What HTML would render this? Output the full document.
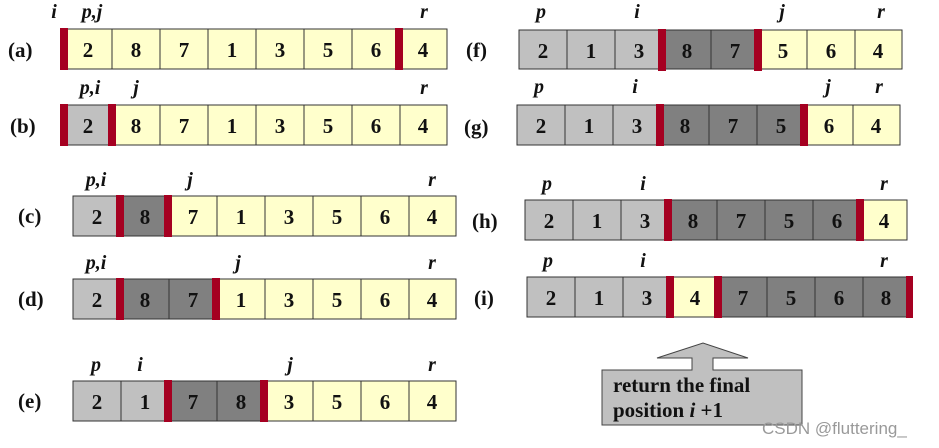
<!DOCTYPE html>
<html><head><meta charset="utf-8"><style>
html,body{margin:0;padding:0;background:#fff;}
svg{display:block;}
.n{font:bold 21px "Liberation Serif",serif;text-anchor:middle;fill:#111;}
.l{font:bold italic 20px "Liberation Serif",serif;text-anchor:middle;fill:#111;}
.t{font:bold 21px "Liberation Serif",serif;fill:#111;}
.y{fill:#ffffcc;stroke:#333;stroke-width:1}
.g{fill:#c0c0c0;stroke:#333;stroke-width:1}
.d{fill:#808080;stroke:#333;stroke-width:1}
.b{fill:#a50021}
</style></head><body>
<svg width="939" height="448" viewBox="0 0 939 448" xmlns="http://www.w3.org/2000/svg">
<!-- row labels -->
<text class="t" x="8" y="57">(a)</text>
<text class="t" x="10" y="133">(b)</text>
<text class="t" x="18" y="223">(c)</text>
<text class="t" x="18" y="306">(d)</text>
<text class="t" x="18" y="408">(e)</text>
<text class="t" x="466" y="57">(f)</text>
<text class="t" x="464" y="134">(g)</text>
<text class="t" x="472" y="228">(h)</text>
<text class="t" x="474" y="305">(i)</text>

<!-- (a) -->
<g transform="translate(64,29)">
<rect class="y" x="0" y="0" width="48" height="40"/><rect class="y" x="48" y="0" width="48" height="40"/><rect class="y" x="96" y="0" width="48" height="40"/><rect class="y" x="144" y="0" width="48" height="40"/><rect class="y" x="192" y="0" width="48" height="40"/><rect class="y" x="240" y="0" width="48" height="40"/><rect class="y" x="288" y="0" width="48" height="40"/><rect class="y" x="336" y="0" width="47" height="40"/>
<text class="n" x="24" y="28">2</text><text class="n" x="72" y="28">8</text><text class="n" x="120" y="28">7</text><text class="n" x="168" y="28">1</text><text class="n" x="216" y="28">3</text><text class="n" x="264" y="28">5</text><text class="n" x="312" y="28">6</text><text class="n" x="359" y="28">4</text>
<rect class="b" x="-4" y="-1" width="8" height="42"/><rect class="b" x="331" y="-1" width="8" height="42"/>
</g>
<text class="l" x="54" y="18">i</text><text class="l" x="92" y="18">p,j</text><text class="l" x="424" y="18">r</text>

<!-- (b) -->
<g transform="translate(64,105)">
<rect class="g" x="0" y="0" width="48" height="40"/><rect class="y" x="48" y="0" width="48" height="40"/><rect class="y" x="96" y="0" width="48" height="40"/><rect class="y" x="144" y="0" width="48" height="40"/><rect class="y" x="192" y="0" width="48" height="40"/><rect class="y" x="240" y="0" width="48" height="40"/><rect class="y" x="288" y="0" width="48" height="40"/><rect class="y" x="336" y="0" width="47" height="40"/>
<text class="n" x="24" y="28">2</text><text class="n" x="72" y="28">8</text><text class="n" x="120" y="28">7</text><text class="n" x="168" y="28">1</text><text class="n" x="216" y="28">3</text><text class="n" x="264" y="28">5</text><text class="n" x="312" y="28">6</text><text class="n" x="359" y="28">4</text>
<rect class="b" x="-4" y="-1" width="8" height="42"/><rect class="b" x="44" y="-1" width="8" height="42"/>
</g>
<text class="l" x="90" y="94">p,i</text><text class="l" x="136" y="94">j</text><text class="l" x="424" y="94">r</text>

<!-- (c) -->
<g transform="translate(73,196)">
<rect class="g" x="0" y="0" width="48" height="40"/><rect class="d" x="48" y="0" width="48" height="40"/><rect class="y" x="96" y="0" width="48" height="40"/><rect class="y" x="144" y="0" width="48" height="40"/><rect class="y" x="192" y="0" width="48" height="40"/><rect class="y" x="240" y="0" width="48" height="40"/><rect class="y" x="288" y="0" width="48" height="40"/><rect class="y" x="336" y="0" width="47" height="40"/>
<text class="n" x="24" y="28">2</text><text class="n" x="72" y="28">8</text><text class="n" x="120" y="28">7</text><text class="n" x="168" y="28">1</text><text class="n" x="216" y="28">3</text><text class="n" x="264" y="28">5</text><text class="n" x="312" y="28">6</text><text class="n" x="359" y="28">4</text>
<rect class="b" x="43" y="-1" width="8" height="42"/><rect class="b" x="91" y="-1" width="8" height="42"/>
</g>
<text class="l" x="96" y="186">p,i</text><text class="l" x="190" y="186">j</text><text class="l" x="432" y="186">r</text>

<!-- (d) -->
<g transform="translate(73,279)">
<rect class="g" x="0" y="0" width="48" height="40"/><rect class="d" x="48" y="0" width="48" height="40"/><rect class="d" x="96" y="0" width="48" height="40"/><rect class="y" x="144" y="0" width="48" height="40"/><rect class="y" x="192" y="0" width="48" height="40"/><rect class="y" x="240" y="0" width="48" height="40"/><rect class="y" x="288" y="0" width="48" height="40"/><rect class="y" x="336" y="0" width="47" height="40"/>
<text class="n" x="24" y="28">2</text><text class="n" x="72" y="28">8</text><text class="n" x="120" y="28">7</text><text class="n" x="168" y="28">1</text><text class="n" x="216" y="28">3</text><text class="n" x="264" y="28">5</text><text class="n" x="312" y="28">6</text><text class="n" x="359" y="28">4</text>
<rect class="b" x="43" y="-1" width="8" height="42"/><rect class="b" x="139" y="-1" width="8" height="42"/>
</g>
<text class="l" x="96" y="269">p,i</text><text class="l" x="238" y="269">j</text><text class="l" x="432" y="269">r</text>

<!-- (e) -->
<g transform="translate(73,381)">
<rect class="g" x="0" y="0" width="48" height="40"/><rect class="g" x="48" y="0" width="48" height="40"/><rect class="d" x="96" y="0" width="48" height="40"/><rect class="d" x="144" y="0" width="48" height="40"/><rect class="y" x="192" y="0" width="48" height="40"/><rect class="y" x="240" y="0" width="48" height="40"/><rect class="y" x="288" y="0" width="48" height="40"/><rect class="y" x="336" y="0" width="47" height="40"/>
<text class="n" x="24" y="28">2</text><text class="n" x="72" y="28">1</text><text class="n" x="120" y="28">7</text><text class="n" x="168" y="28">8</text><text class="n" x="216" y="28">3</text><text class="n" x="264" y="28">5</text><text class="n" x="312" y="28">6</text><text class="n" x="359" y="28">4</text>
<rect class="b" x="91" y="-1" width="8" height="42"/><rect class="b" x="187" y="-1" width="8" height="42"/>
</g>
<text class="l" x="96" y="371">p</text><text class="l" x="140" y="371">i</text><text class="l" x="290" y="371">j</text><text class="l" x="432" y="371">r</text>

<!-- (f) -->
<g transform="translate(519,30)">
<rect class="g" x="0" y="0" width="48" height="39"/><rect class="g" x="48" y="0" width="48" height="39"/><rect class="g" x="96" y="0" width="48" height="39"/><rect class="d" x="144" y="0" width="48" height="39"/><rect class="d" x="192" y="0" width="48" height="39"/><rect class="y" x="240" y="0" width="48" height="39"/><rect class="y" x="288" y="0" width="48" height="39"/><rect class="y" x="336" y="0" width="47" height="39"/>
<text class="n" x="24" y="28">2</text><text class="n" x="72" y="28">1</text><text class="n" x="120" y="28">3</text><text class="n" x="168" y="28">8</text><text class="n" x="216" y="28">7</text><text class="n" x="264" y="28">5</text><text class="n" x="312" y="28">6</text><text class="n" x="359" y="28">4</text>
<rect class="b" x="139" y="-1" width="8" height="42"/><rect class="b" x="235" y="-1" width="8" height="42"/>
</g>
<text class="l" x="541" y="18">p</text><text class="l" x="637" y="18">i</text><text class="l" x="782" y="18">j</text><text class="l" x="881" y="18">r</text>

<!-- (g) -->
<g transform="translate(517,105)">
<rect class="g" x="0" y="0" width="48" height="40"/><rect class="g" x="48" y="0" width="48" height="40"/><rect class="g" x="96" y="0" width="48" height="40"/><rect class="d" x="144" y="0" width="48" height="40"/><rect class="d" x="192" y="0" width="48" height="40"/><rect class="d" x="240" y="0" width="48" height="40"/><rect class="y" x="288" y="0" width="48" height="40"/><rect class="y" x="336" y="0" width="47" height="40"/>
<text class="n" x="24" y="28">2</text><text class="n" x="72" y="28">1</text><text class="n" x="120" y="28">3</text><text class="n" x="168" y="28">8</text><text class="n" x="216" y="28">7</text><text class="n" x="264" y="28">5</text><text class="n" x="312" y="28">6</text><text class="n" x="359" y="28">4</text>
<rect class="b" x="139" y="-1" width="8" height="42"/><rect class="b" x="283" y="-1" width="8" height="42"/>
</g>
<text class="l" x="539" y="93">p</text><text class="l" x="635" y="93">i</text><text class="l" x="828" y="93">j</text><text class="l" x="879" y="93">r</text>

<!-- (h) -->
<g transform="translate(525,200)">
<rect class="g" x="0" y="0" width="48" height="40"/><rect class="g" x="48" y="0" width="48" height="40"/><rect class="g" x="96" y="0" width="48" height="40"/><rect class="d" x="144" y="0" width="48" height="40"/><rect class="d" x="192" y="0" width="48" height="40"/><rect class="d" x="240" y="0" width="48" height="40"/><rect class="d" x="288" y="0" width="48" height="40"/><rect class="y" x="336" y="0" width="46" height="40"/>
<text class="n" x="24" y="28">2</text><text class="n" x="72" y="28">1</text><text class="n" x="120" y="28">3</text><text class="n" x="168" y="28">8</text><text class="n" x="216" y="28">7</text><text class="n" x="264" y="28">5</text><text class="n" x="312" y="28">6</text><text class="n" x="359" y="28">4</text>
<rect class="b" x="139" y="-1" width="8" height="42"/><rect class="b" x="331" y="-1" width="8" height="42"/>
</g>
<text class="l" x="547" y="190">p</text><text class="l" x="643" y="190">i</text><text class="l" x="884" y="190">r</text>

<!-- (i) -->
<g transform="translate(527,277)">
<rect class="g" x="0" y="0" width="48" height="40"/><rect class="g" x="48" y="0" width="48" height="40"/><rect class="g" x="96" y="0" width="48" height="40"/><rect class="y" x="144" y="0" width="48" height="40"/><rect class="d" x="192" y="0" width="48" height="40"/><rect class="d" x="240" y="0" width="48" height="40"/><rect class="d" x="288" y="0" width="48" height="40"/><rect class="d" x="336" y="0" width="46" height="40"/>
<text class="n" x="24" y="28">2</text><text class="n" x="72" y="28">1</text><text class="n" x="120" y="28">3</text><text class="n" x="168" y="28">4</text><text class="n" x="216" y="28">7</text><text class="n" x="264" y="28">5</text><text class="n" x="312" y="28">6</text><text class="n" x="359" y="28">8</text>
<rect class="b" x="139" y="-1" width="8" height="42"/><rect class="b" x="187" y="-1" width="8" height="42"/><rect class="b" x="379" y="-1" width="7" height="42"/>
</g>
<text class="l" x="548" y="267">p</text><text class="l" x="643" y="267">i</text><text class="l" x="884" y="267">r</text>

<!-- arrow box -->
<polygon points="602,370 692,370 692,358 657,358 703,343 748,358 713,358 713,370 802,370 802,425 602,425" fill="#c0c0c0" stroke="#444" stroke-width="1"/>
<text class="t" x="613" y="392">return the final</text>
<text class="t" x="613" y="417">position <tspan font-style="italic">i</tspan> +1</text>

<text x="762" y="434" style="font:17px 'Liberation Sans',sans-serif;fill:#999">CSDN @fluttering_</text>
</svg>
</body></html>
